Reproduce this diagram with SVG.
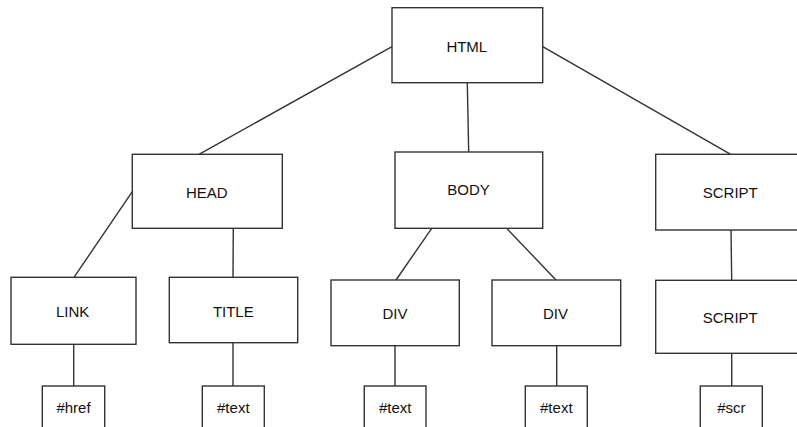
<svg xmlns="http://www.w3.org/2000/svg" width="797" height="427" viewBox="0 0 797 427">
<style>
.box{fill:#fff;stroke:#333;stroke-width:1.4}
.lbl{font-family:"Liberation Sans",Arial,sans-serif;font-size:15px;fill:#111;text-anchor:middle}
.con line{stroke:#333;stroke-width:1.4}
</style>
<rect width="797" height="427" fill="#fff"/>
<g class="con" id="connectors">
<line x1="392" y1="46.7" x2="199" y2="154.3"/>
<line x1="467.3" y1="82.7" x2="468.7" y2="152"/>
<line x1="542.7" y1="46.7" x2="730.7" y2="154.3"/>
<line x1="132.3" y1="191.7" x2="74" y2="277.3"/>
<line x1="233.3" y1="228.3" x2="233" y2="277.3"/>
<line x1="431.7" y1="228.3" x2="396" y2="280"/>
<line x1="506.7" y1="228.3" x2="556" y2="280"/>
<line x1="731" y1="230" x2="731.7" y2="280.3"/>
<line x1="73.7" y1="344.3" x2="73.7" y2="386"/>
<line x1="233" y1="342.7" x2="233" y2="386"/>
<line x1="395" y1="345.7" x2="395" y2="386"/>
<line x1="556.7" y1="345.7" x2="556.7" y2="386"/>
<line x1="731.7" y1="353.3" x2="731.7" y2="386"/>
</g>
<g id="html"><rect class="box" x="392" y="7.7" width="150.7" height="75"/><text class="lbl" x="466.8" y="51.7">HTML</text></g>
<g id="head"><rect class="box" x="132.3" y="154.3" width="150" height="74"/><text class="lbl" x="206.8" y="197.7">HEAD</text></g>
<g id="body"><rect class="box" x="395" y="152" width="147.7" height="76.3"/><text class="lbl" x="468.5" y="195.3">BODY</text></g>
<g id="script"><rect class="box" x="655.7" y="154.3" width="160" height="75.7"/><text class="lbl" x="730.3" y="197.7">SCRIPT</text></g>
<g id="link"><rect class="box" x="11" y="277.3" width="125" height="67"/><text class="lbl" x="72.7" y="316.7">LINK</text></g>
<g id="title"><rect class="box" x="169.3" y="277.3" width="128.4" height="65.4"/><text class="lbl" x="233.3" y="316.7">TITLE</text></g>
<g id="div1"><rect class="box" x="331" y="280" width="128.3" height="65.7"/><text class="lbl" x="395" y="319">DIV</text></g>
<g id="div2"><rect class="box" x="492" y="280" width="128.7" height="65.7"/><text class="lbl" x="555.5" y="319">DIV</text></g>
<g id="script2"><rect class="box" x="655.7" y="280.3" width="160" height="73"/><text class="lbl" x="730.3" y="322.7">SCRIPT</text></g>
<g id="href"><rect class="box" x="42.3" y="386" width="62.4" height="60"/><text class="lbl" x="73.5" y="413.3">#href</text></g>
<g id="text1"><rect class="box" x="202.3" y="386" width="62" height="60"/><text class="lbl" x="233.3" y="413.3">#text</text></g>
<g id="text2"><rect class="box" x="364.3" y="386" width="61.7" height="60"/><text class="lbl" x="395.2" y="413.3">#text</text></g>
<g id="text3"><rect class="box" x="525.3" y="386" width="62" height="60"/><text class="lbl" x="556.3" y="413.3">#text</text></g>
<g id="scr"><rect class="box" x="700.3" y="386" width="62" height="60"/><text class="lbl" x="731.3" y="413.3">#scr</text></g>
</svg>
